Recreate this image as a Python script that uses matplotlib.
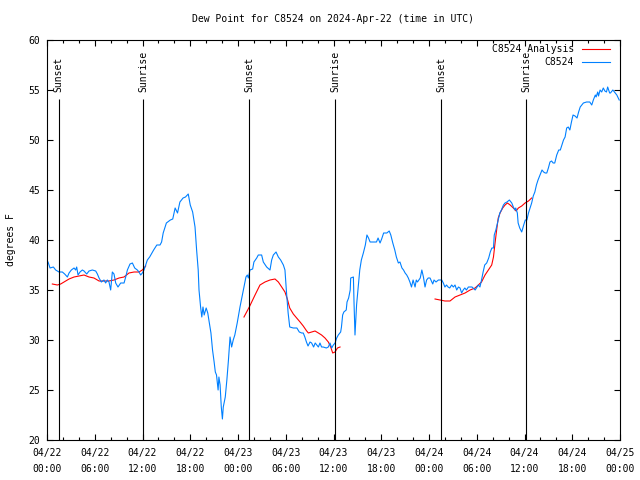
import numpy as np
import matplotlib
matplotlib.use('Agg')
import matplotlib.pyplot as plt
import matplotlib.dates as mdates
from matplotlib.ticker import MultipleLocator

plt.rcParams['font.family'] = 'DejaVu Sans Mono'
plt.rcParams['font.size'] = 7

# hours after 2024-04-22 00:00 UTC
obs_hours = [
    0.13, 0.38, 0.8, 1.09, 1.51, 1.93, 2.22, 2.56, 2.77, 3.06, 3.4, 3.6, 3.73, 3.9,
    4.15, 4.44, 4.65, 4.99, 5.28, 5.7, 6.12, 6.33, 6.54, 6.83, 7.16, 7.37, 7.58, 7.79,
    8.0, 8.21, 8.42, 8.63, 8.92, 9.26, 9.68, 9.89, 10.1, 10.43, 10.73, 11.02, 11.35,
    11.56, 11.77, 11.98, 12.19, 12.4, 12.61, 12.9, 13.4, 13.8, 14.2, 14.4, 14.6, 15.0,
    15.5, 15.8, 16.1, 16.4, 16.7, 17.1, 17.4, 17.75, 18.0, 18.3, 18.6, 18.8, 19.0, 19.1,
    19.3, 19.45, 19.6, 19.75, 20.0, 20.2, 20.4, 20.6, 20.8, 21.0, 21.15, 21.3, 21.5,
    21.6, 21.75, 21.9, 22.04, 22.15, 22.4, 22.6, 22.8, 23.0, 23.2, 23.4, 23.6, 23.9,
    24.25, 24.67, 25.0, 25.17, 25.3, 25.5, 25.84, 26.0, 26.35, 26.55, 26.97, 27.18,
    27.6, 28.02, 28.23, 28.44, 28.78, 29.07, 29.36, 29.7, 29.9, 30.1, 30.3, 30.5, 30.95,
    31.4, 31.7, 32.0, 32.2, 32.4, 32.6, 32.8, 33.05, 33.25, 33.5, 33.7, 33.9, 34.1,
    34.3, 34.5, 34.7, 35.1, 35.35, 35.56, 35.77, 35.98, 36.2, 36.4, 36.6, 36.9, 37.0,
    37.15, 37.3, 37.6, 37.7, 37.9, 38.1, 38.16, 38.5, 38.58, 38.7, 38.8, 38.9, 39.1,
    39.3, 39.5, 39.75, 40.0, 40.2, 40.4, 40.6, 41.0, 41.4, 41.6, 41.85, 42.05, 42.3,
    42.7, 43.0, 43.2, 43.45, 43.7, 43.9, 44.15, 44.35, 44.6, 44.8, 45.0, 45.2, 45.4,
    45.6, 45.8, 46.0, 46.25, 46.4, 46.55, 46.9, 47.1, 47.3, 47.5, 47.7, 47.9, 48.13,
    48.47, 48.63, 48.88, 49.18, 49.6, 49.8, 50.0, 50.2, 50.4, 50.6, 50.85, 51.06, 51.27,
    51.48, 51.7, 51.9, 52.1, 52.3, 52.5, 52.7, 52.95, 53.4, 53.8, 54.2, 54.4, 54.6,
    54.8, 55.0, 55.25, 55.5, 55.7, 55.9, 56.1, 56.2, 56.4, 56.7, 56.9, 57.1, 57.35,
    57.55, 57.8, 58.1, 58.4, 58.6, 58.8, 58.9, 59.1, 59.2, 59.4, 59.65, 59.9, 60.1,
    60.3, 60.5, 60.7, 60.9, 61.1, 61.3, 61.5, 61.7, 61.95, 62.2, 62.4, 62.6, 62.8,
    63.0, 63.2, 63.4, 63.6, 63.8, 64.05, 64.3, 64.5, 64.7, 64.9, 65.1, 65.3, 65.5,
    65.7, 65.9, 66.1, 66.35, 66.6, 66.8, 67.0, 67.2, 67.4, 67.8, 68.2, 68.45, 68.65,
    68.9, 69.0, 69.2, 69.3, 69.5, 69.7, 69.9, 70.1, 70.3, 70.45, 70.7, 70.8, 71.1,
    71.4, 71.6, 71.9,
]
obs_dewpt = [
    37.8, 37.2, 37.3, 37.0, 36.8, 36.8, 36.6, 36.3, 36.7, 37.0, 37.2, 37.0, 37.3, 36.5,
    36.8, 37.0, 36.9, 36.6, 36.9, 37.0, 36.9, 36.6, 36.2, 35.8, 36.0, 35.7, 36.0, 35.8,
    35.0, 36.8, 36.6, 35.7, 35.3, 35.7, 35.7, 36.3, 37.0, 37.6, 37.7, 37.2, 37.0,
    36.8, 36.5, 36.7, 37.0, 37.5, 38.0, 38.3, 39.0, 39.5, 39.5, 39.8, 40.7, 41.7,
    42.0, 42.1, 43.2, 42.7, 43.8, 44.2, 44.3, 44.6, 43.5, 42.8, 41.3, 39.0, 37.0, 35.0,
    33.3, 32.3, 33.3, 32.5, 33.2, 32.7, 31.7, 30.7, 29.0, 27.8, 26.8, 26.5, 25.0,
    26.3, 25.5, 23.3, 22.1, 23.3, 24.3, 26.0, 28.0, 30.3, 29.3, 30.0, 30.5, 31.7,
    33.3, 35.0, 36.3, 36.5, 36.2, 37.0, 37.1, 37.8, 38.2, 38.5, 38.5, 37.8,
    37.3, 37.0, 38.0, 38.5, 38.8, 38.3, 38.0, 37.5, 37.0, 34.7, 32.7, 31.3, 31.2,
    31.2, 30.8, 30.7, 30.7, 30.3, 29.8, 29.4, 29.8, 29.7, 29.3, 29.7, 29.5, 29.3,
    29.7, 29.3, 29.3, 29.2, 29.3, 29.7, 29.2, 29.5, 29.7, 30.2, 30.5, 30.8, 31.3,
    32.5, 32.8, 33.0, 33.8, 34.2, 35.0, 36.2, 36.3, 33.7, 30.5, 32.0, 33.5, 35.3,
    37.0, 38.0, 38.7, 39.5, 40.5, 40.2, 39.8, 39.8, 39.8, 40.2, 39.7, 40.1, 40.7,
    40.7, 40.9, 40.5, 39.7, 39.0, 38.3, 37.7, 37.8, 37.2, 37.0, 36.7, 36.5, 36.2,
    35.8, 35.3, 36.0, 35.3, 36.0, 35.8, 36.2, 37.0, 36.3, 35.3, 36.0, 36.2, 36.2,
    35.6, 36.0, 35.8, 36.0, 36.0, 35.7, 35.3, 35.5, 35.3, 35.2, 35.5, 35.3, 35.5,
    35.0, 35.3, 35.2, 34.7, 35.0, 35.2, 35.0, 35.3, 35.3, 35.0, 35.5, 35.3, 36.0,
    36.8, 37.5, 37.7, 38.2, 38.8, 39.2, 39.2, 40.5, 41.0, 42.0, 42.7, 43.0, 43.5,
    43.7, 43.8, 44.0, 43.7, 43.3, 43.0, 43.2, 42.7, 41.7, 41.2, 40.8, 41.5, 42.0,
    42.0, 42.7, 43.2, 43.7, 44.4, 44.8, 45.5, 46.0, 46.5, 47.0, 46.8, 46.7, 46.7,
    47.2, 47.8, 47.9, 47.7, 47.7, 48.5, 49.0, 49.0, 49.5, 50.0, 50.3, 51.2, 51.3,
    51.0, 51.8, 52.5, 52.4, 52.2, 52.8, 53.3, 53.5, 53.7, 53.8, 53.8, 53.5, 54.0,
    54.5, 54.3, 54.8, 54.4, 55.0, 54.8, 55.2, 54.9, 54.8, 55.3, 54.7, 54.7, 55.0,
    54.7, 54.5, 54.0,
]

# analysis comes in three separate runs
ana_hours_1 = [0.67, 1.3, 1.72, 2.14, 2.77, 3.4, 4.02, 4.65, 5.28, 5.9, 6.54, 7.16, 7.79,
               8.42, 9.05, 9.68, 10.3, 10.94, 11.56, 11.98, 12.4]
ana_dewpt_1 = [35.6, 35.5, 35.6, 35.8, 36.1, 36.3, 36.4, 36.5, 36.3, 36.2, 35.9, 35.9, 35.9,
               36.0, 36.2, 36.3, 36.7, 36.8, 36.8, 37.0, 37.4]
ana_hours_2 = [24.75, 25.42, 26.14, 26.76, 27.39, 28.02, 28.65, 29.07, 29.49, 29.9, 30.2,
               30.5, 30.95, 31.37, 31.8, 32.2, 32.63, 32.84, 33.26, 33.68, 34.1, 34.5,
               34.93, 35.35, 35.65, 35.9, 36.19, 36.5, 36.82]
ana_dewpt_2 = [32.3, 33.3, 34.5, 35.5, 35.8, 36.0, 36.1, 35.8, 35.3, 34.8, 34.1,
               33.2, 32.6, 32.2, 31.8, 31.4, 30.9, 30.7, 30.8, 30.9, 30.7, 30.5,
               30.2, 29.8, 29.3, 28.7, 28.8, 29.2, 29.3]
ana_hours_3 = [48.76, 49.39, 50.0, 50.64, 51.27, 51.9, 52.53, 53.16, 53.79, 54.2, 54.6,
               55.04, 55.46, 55.88, 56.1, 56.3, 56.5, 56.7, 56.93, 57.26, 57.56, 57.85,
               58.2, 58.6, 58.94, 59.23, 59.65, 60.07, 60.5, 60.9]
ana_dewpt_3 = [34.1, 34.0, 33.9, 33.9, 34.3, 34.5, 34.7, 35.0, 35.2, 35.5, 35.8,
               36.5, 37.0, 37.5, 38.3, 39.7, 41.0, 42.2, 42.7, 43.2, 43.5, 43.7,
               43.5, 43.2, 42.9, 43.2, 43.4, 43.7, 43.9, 44.2]

sunset_hours = [1.45, 25.42, 49.55]
sunrise_hours = [12.1, 36.2, 60.25]

start = np.datetime64('2024-04-22T00:00')


def to_time(hours):
    secs = np.round(np.asarray(hours) * 3600).astype('int64')
    return start + secs.astype('timedelta64[s]')


fig = plt.figure(figsize=(6.4, 4.8), dpi=100)
ax = fig.add_axes([47 / 640, 40 / 480, 573 / 640, 400 / 480])

red = '#ff0000'
blue = '#0080ff'
ax.plot(to_time(ana_hours_1), ana_dewpt_1, color=red, lw=0.8, label='C8524 Analysis')
ax.plot(to_time(ana_hours_2), ana_dewpt_2, color=red, lw=0.8)
ax.plot(to_time(ana_hours_3), ana_dewpt_3, color=red, lw=0.8)
ax.plot(to_time(obs_hours), obs_dewpt, color=blue, lw=0.8, label='C8524')

# sun events
for name, hrs in (('Sunset', sunset_hours), ('Sunrise', sunrise_hours)):
    for t in to_time(hrs):
        ax.vlines(t, 20, 54.1, color='black', lw=0.8)
        ax.text(t, 54.8, name, rotation=90, ha='center', va='bottom')

ax.set_xlim(start, start + np.timedelta64(72, 'h'))
ax.set_ylim(20, 60)
ax.xaxis.set_major_locator(mdates.HourLocator(byhour=[0, 6, 12, 18]))
ax.xaxis.set_minor_locator(mdates.HourLocator(byhour=range(0, 24, 2)))
ax.xaxis.set_major_formatter(mdates.DateFormatter('%m/%d\n%H:%M'))
ax.yaxis.set_major_locator(MultipleLocator(5))

ax.tick_params(which='both', direction='in', top=True, right=True, width=0.8, labelsize=7)
ax.tick_params(which='major', length=4.5, pad=5)
ax.tick_params(axis='x', which='major', pad=6)
ax.tick_params(which='minor', length=2.5)
for sp in ax.spines.values():
    sp.set_linewidth(0.8)
for tick in ax.xaxis.get_major_ticks():
    tick.label1.set_linespacing(1.75)

leg = ax.legend(loc='upper right', bbox_to_anchor=((610 - 47) / 573, (440 - 44) / 400),
                frameon=False, markerfirst=False, handlelength=2.9, handletextpad=0.8,
                labelspacing=0.35, borderaxespad=0, borderpad=0)

fig.text(333.5 / 640, 1 - 19 / 480, 'Dew Point for C8524 on 2024-Apr-22 (time in UTC)',
         ha='center', va='center')
fig.text(11 / 640, 0.5, 'degrees F', rotation=90, ha='center', va='center')

fig.savefig('out.png', dpi=100)
